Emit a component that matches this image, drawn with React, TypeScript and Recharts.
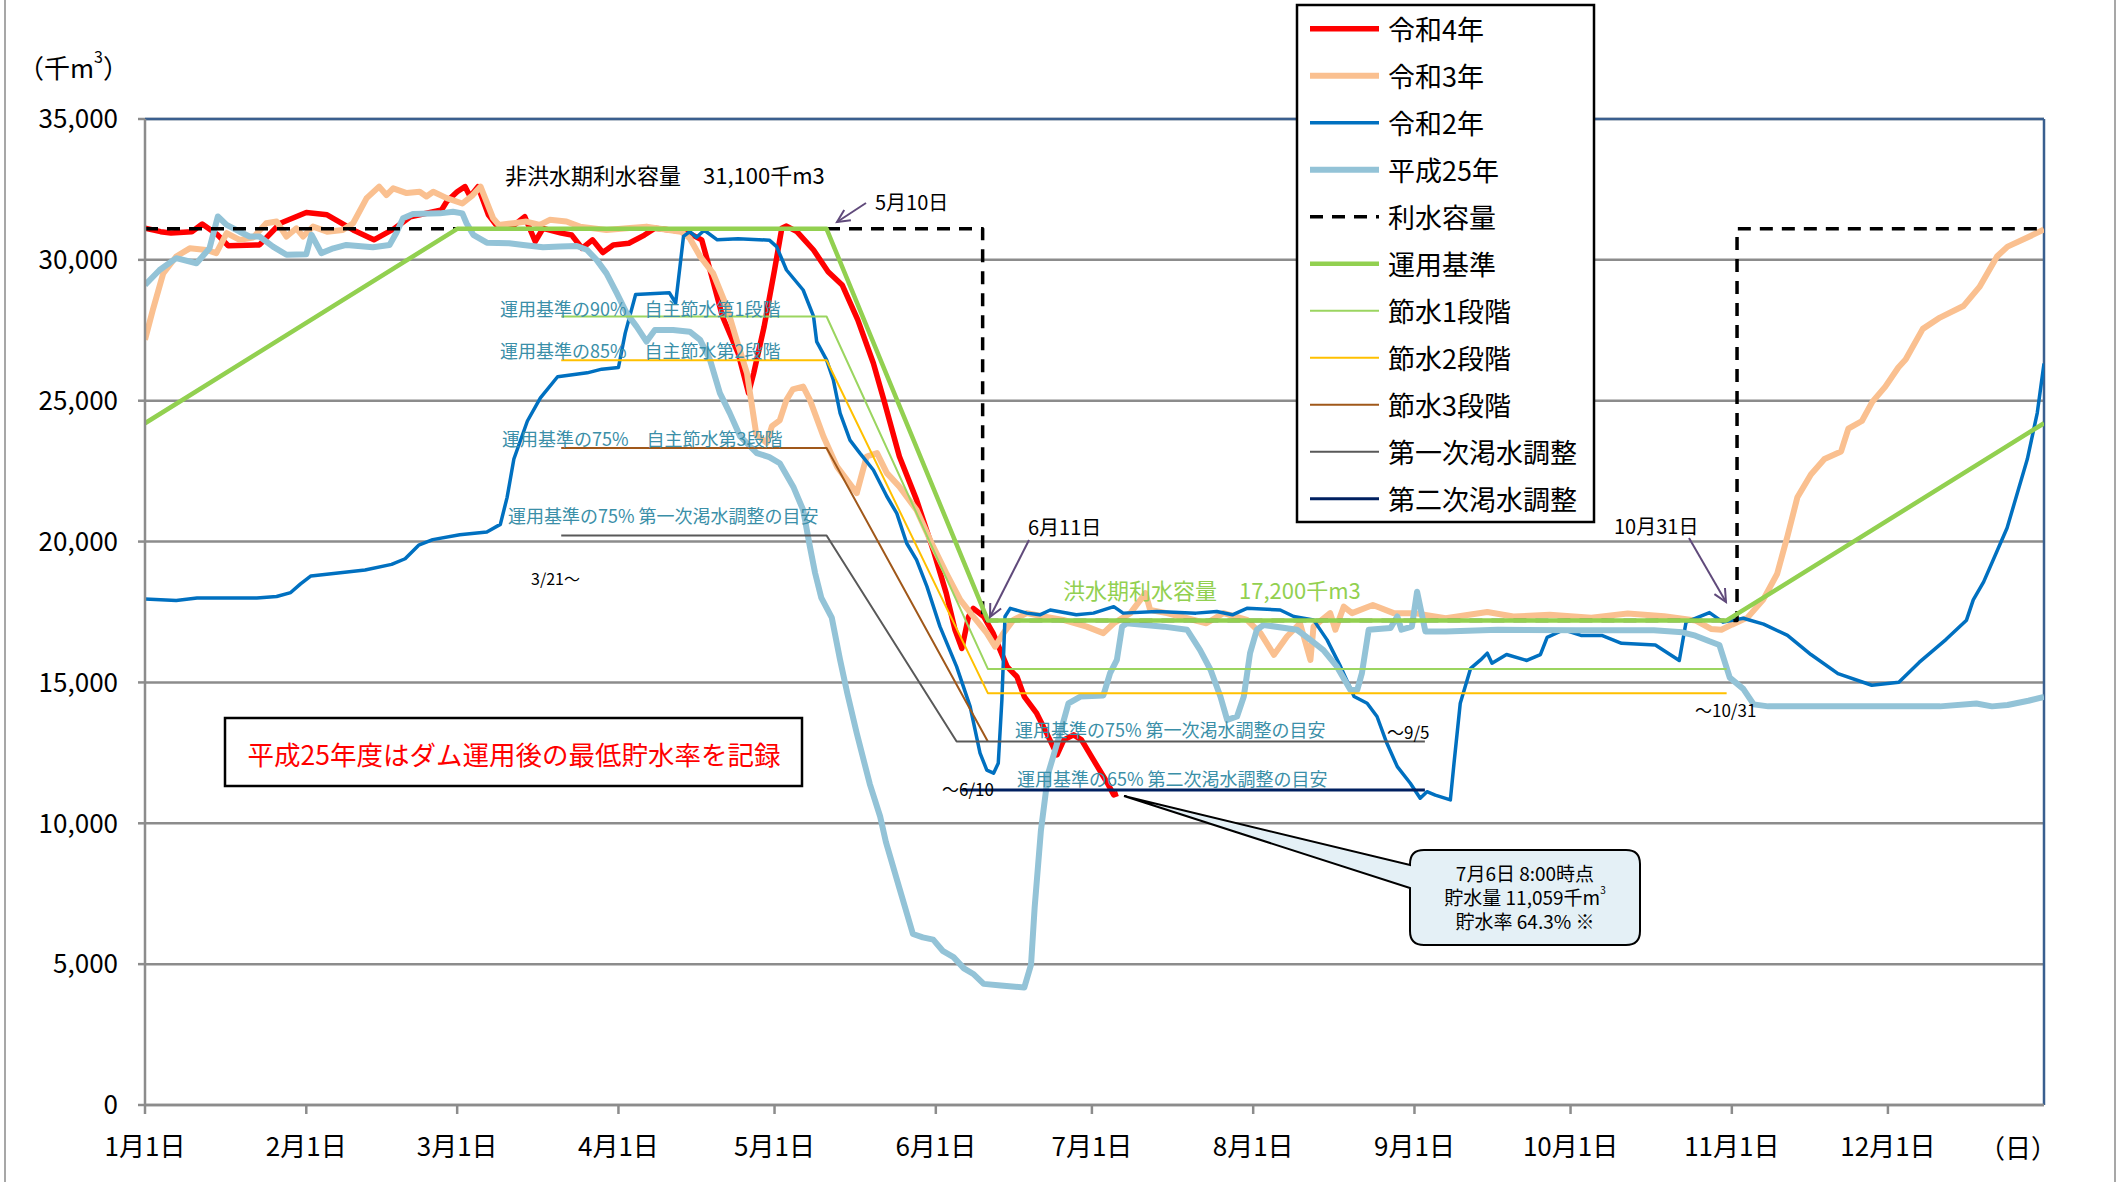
import { LineChart, Line, XAxis, YAxis, CartesianGrid, ReferenceLine } from 'recharts';

const FONT = '"Noto Sans CJK JP", "Noto Sans", sans-serif';

// x = day of a leap year (0 = 1月1日, 365 = 12月31日)
const X_TICKS = [0, 31, 60, 91, 121, 152, 182, 213, 244, 274, 305, 335];
const X_LABELS = ['1月1日', '2月1日', '3月1日', '4月1日', '5月1日', '6月1日', '7月1日', '8月1日', '9月1日', '10月1日', '11月1日', '12月1日'];
const Y_TICKS = [0, 5000, 10000, 15000, 20000, 25000, 30000, 35000];

const REIWA4: [number, number][] = [
  [0, 31120], [3, 31000], [5, 30950], [9, 31000], [11, 31270], [14, 30880], [16, 30500], [22, 30530],
  [26, 31300], [31, 31680], [35, 31600], [40, 31060], [44, 30710], [48, 31120], [51, 31530], [57, 31770],
  [58, 32070], [60, 32420], [61.5, 32600], [62.5, 32250], [64, 32600], [66, 31600], [68, 31120], [71, 31240],
  [73, 31530], [75, 30650], [76.5, 31120], [80, 30950], [82, 30880], [84, 30410], [86, 30710], [88, 30260],
  [90, 30530], [93, 30590], [96, 30880], [98, 31120], [104, 31000], [107, 30710], [108.6, 29640], [111, 27990],
  [114, 26690], [116, 25270], [117, 25980], [119, 27630], [121, 29640], [122.4, 31120], [123.3, 31200],
  [125.3, 31000], [128.5, 30350], [131.3, 29580], [134, 29110], [137, 27870], [140, 26330], [142, 25030],
  [145, 23020], [148.3, 21480], [151.5, 19700], [154, 18170], [155.7, 16860], [157, 16210], [158.3, 17340],
  [159.2, 17630], [161.2, 17340], [163, 16750], [165.7, 15560], [167.6, 15200], [169, 14500], [171.4, 13900],
  [173.3, 13200], [175.3, 12430], [176.6, 12960], [178.5, 13140], [180, 12960], [182.3, 12250], [185, 11420],
  [186.2, 11010], [187, 11059],
];

const REIWA3: [number, number][] = [
  [0, 27160], [1.5, 28220], [3.5, 29520], [6, 30120], [8.6, 30410], [11.8, 30350], [13.7, 30240], [15.7, 30950],
  [18.2, 30710], [20.8, 30790], [23.3, 31300], [25.3, 31360], [27.2, 30830], [29.1, 31120], [30.4, 30830],
  [32.3, 31180], [35, 31000], [38, 31060], [40, 31300], [42.6, 32190], [45, 32600], [46.4, 32300], [47.7, 32540],
  [50.3, 32370], [52.8, 32420], [54.1, 32250], [55.4, 32420], [58, 32190], [61, 32000], [63, 32300], [64.5, 32600],
  [66.9, 31480], [68, 31240], [70.8, 31300], [73.3, 31360], [75.9, 31240], [77.8, 31420], [81, 31360],
  [83.6, 31180], [88.7, 31060], [92.6, 31120], [96.4, 31180], [98.3, 31120], [103, 31000], [104.7, 30770],
  [106.7, 30120], [109.2, 29520], [111.8, 28340], [113.7, 27160], [115.7, 25980], [117.5, 23800], [119.5, 23500],
  [120.5, 24100], [122, 24300], [123.3, 25030], [124.5, 25400], [126.5, 25500], [127.8, 25030], [130.4, 23730],
  [133, 22660], [136.8, 21720], [138.7, 23020], [140.7, 23140], [142.6, 22430], [145, 21950], [148.3, 21120],
  [151.5, 19820], [154, 18880], [156.7, 17930], [159.2, 17340], [161.8, 16750], [163.4, 16270], [165, 16750],
  [166.9, 17220], [169.5, 17460], [172.7, 17340], [176.5, 17220], [181, 16980], [184.2, 16750], [186.2, 17100],
  [189.4, 17460], [192.3, 18170], [193.2, 17570], [196.4, 17460], [199, 17340], [204, 17100], [207.3, 17460],
  [211.8, 17220], [214.4, 16750], [217, 15980], [219.5, 16630], [222, 17100], [224, 15800], [224.6, 16980],
  [227.8, 17460], [228.8, 16870], [230.4, 17690], [232, 17460], [236, 17750], [240, 17460], [244, 17460],
  [250, 17280], [258, 17500], [263, 17340], [270, 17400], [278, 17300], [285, 17450], [292, 17350], [298, 17200],
  [301, 16900], [303, 16870], [305, 17050], [308, 17300], [311, 17930], [313.7, 18850], [315.7, 20200],
  [317.6, 21570], [320.2, 22380], [322.8, 22930], [326, 23200], [327.4, 24010], [330, 24280], [332, 24960],
  [334.5, 25500], [337, 26180], [338.4, 26460], [341.7, 27550], [345, 27950], [349.5, 28360], [352.6, 29040],
  [356, 30130], [358, 30470], [362, 30810], [365, 31080],
];

const REIWA2: [number, number][] = [
  [0, 17960], [6, 17910], [10, 18000], [21.5, 18000], [25.3, 18050], [28, 18190], [29.9, 18500], [31.9, 18780],
  [42.3, 18990], [47.4, 19190], [50, 19390], [52.6, 19870], [55.3, 20070], [60.5, 20240], [65.7, 20340],
  [68.3, 20610], [69.6, 21570], [70.9, 22930], [73.5, 24280], [76, 25100], [79.3, 25850], [85, 25990],
  [87.8, 26120], [91, 26180], [92.3, 27400], [94.3, 28770], [100.8, 28830], [102, 28470], [103.5, 30830],
  [104.7, 31000], [106, 30800], [107.5, 31050], [110, 30710], [114, 30750], [120, 30700], [121.4, 30470],
  [123.3, 29640], [126.5, 28930], [128.5, 27990], [129.1, 27100], [131, 26450], [132.3, 25740], [133.6, 24560],
  [135.5, 23600], [137.4, 23140], [140, 22540], [142.6, 21600], [144.5, 21000], [146.4, 19940], [148.3, 19350],
  [150.3, 18400], [152.8, 16980], [156, 15560], [158.6, 14140], [160.5, 12490], [161.8, 11890], [163.1, 11780],
  [164, 12130], [164.7, 14380], [165.3, 17340], [166.3, 17630], [169.5, 17460], [172, 17400], [174, 17570],
  [179, 17400], [182.3, 17460], [186.2, 17690], [188, 17460], [194.5, 17520], [202, 17460], [206, 17520],
  [209, 17400], [211.8, 17630], [218.2, 17570], [220.8, 17340], [224.6, 17220], [227.2, 16510], [229.8, 15560],
  [232.4, 14500], [234.9, 14260], [236.8, 13790], [238.7, 12840], [240.7, 12010], [243.2, 11420], [245.1, 10890],
  [246.4, 11120], [248, 11000], [250.9, 10830], [251.6, 12130], [252.8, 14260], [254.8, 15500], [256.7, 15800],
  [258, 16040], [258.9, 15680], [260.5, 15860], [261.7, 15990], [265.6, 15780], [268.2, 15990], [269.5, 16600],
  [272.7, 16870], [276, 16670], [280, 16670], [283.8, 16390], [290.3, 16330], [294.9, 15780], [296.2, 17140],
  [300.7, 17480], [303.3, 17140], [307.2, 17280], [311.1, 17070], [315.7, 16670], [320.2, 15990], [325.4, 15310],
  [331.9, 14900], [337.1, 15010], [341, 15710], [346.2, 16530], [350.1, 17210], [351.4, 17930], [353.4, 18570],
  [357.9, 20480], [361.8, 22930], [363.7, 24560], [365, 26320],
];

const HEISEI25: [number, number][] = [
  [0, 29110], [2.8, 29640], [6, 30060], [9.9, 29880], [12.4, 30410], [14, 31540], [15.7, 31240], [18.2, 31000],
  [20.1, 30830], [22, 30830], [24.6, 30470], [27.2, 30180], [31, 30200], [32, 30890], [33.9, 30240], [36.2, 30410],
  [38.7, 30530], [43.8, 30450], [47, 30530], [48.3, 30950], [49.6, 31480], [51.5, 31630], [56.7, 31650],
  [59.2, 31710], [61, 31650], [61.8, 31300], [63.1, 30890], [65.7, 30610], [70, 30590], [72.7, 30530],
  [76.5, 30450], [79.8, 30470], [83, 30490], [84.9, 30360], [86.8, 30000], [88.7, 29520], [90.7, 28810],
  [92.6, 28100], [94.5, 27630], [96.4, 27100], [98, 27510], [101.5, 27510], [104.7, 27450], [106.7, 27160],
  [108.6, 26450], [110.5, 25270], [112.4, 24560], [114.4, 23730], [117.6, 23140], [120, 23000], [122, 22780],
  [124.6, 21950], [126.5, 21120], [127.8, 19820], [128.8, 18880], [130, 18000], [132, 17300], [133.6, 15800],
  [135, 14600], [136.8, 13200], [139.3, 11400], [141.3, 10240], [142.4, 9340], [145, 7700], [147.6, 6070],
  [149.5, 5950], [151.5, 5870], [153.4, 5460], [155.4, 5250], [157.4, 4850], [159.3, 4640], [161.2, 4300],
  [164.5, 4240], [169, 4170], [170.3, 4980], [171, 7020], [172.2, 9740], [173.6, 11770], [175.9, 13200],
  [177.5, 14260], [179.8, 14500], [184.2, 14540], [185.5, 15330], [186.8, 15800], [187.8, 16980], [188.7, 17100],
  [195.8, 16980], [200.3, 16870], [202.8, 16150], [204.8, 15450], [206.7, 14500], [208, 13670], [209.9, 13790],
  [211.2, 14500], [212.4, 16040], [213.7, 16870], [215, 17040], [221.4, 16870], [224, 16510], [226.5, 16150],
  [229.1, 15560], [231.7, 14730], [233, 14730], [233.9, 15330], [235.2, 16870], [239.4, 16930], [240.7, 17340],
  [241.5, 16870], [243.5, 16980], [244.5, 18220], [246.1, 16810], [250, 16810], [260, 16870], [275, 16850],
  [290, 16850], [295.5, 16780], [298, 16660], [300.7, 16460], [302.6, 16330], [304.6, 15170], [307.2, 14770],
  [309.2, 14220], [312, 14150], [330, 14150], [345, 14150], [352, 14250], [355, 14150], [358, 14200],
  [362, 14350], [365, 14490],
];

const RISUI_CAPACITY: [number, number][] = [[0, 31100], [161, 31100], [161, 17200], [306, 17200], [306, 31100], [365, 31100]];
const UNYO_KIJUN: [number, number][] = [[0, 24200], [60, 31100], [131, 31100], [162, 17200], [304, 17200], [365, 24200]];
const SETSUSUI1: [number, number][] = [[80, 27990], [131, 27990], [162, 15480], [304, 15480]];
const SETSUSUI2: [number, number][] = [[80, 26435], [131, 26435], [162, 14620], [304, 14620]];
const SETSUSUI3: [number, number][] = [[80, 23325], [131, 23325], [162, 12900]];
const KASSUI1: [number, number][] = [[80, 20215], [131, 20215], [156, 12900], [246, 12900]];
const KASSUI2: [number, number][] = [[157, 11180], [246, 11180]];

const toPts = (arr: [number, number][]) => arr.map(([d, v]) => ({ d, v }));

const SERIES = [
  { key: 'r4', name: '令和4年', color: '#FF0000', width: 5.5, dash: undefined, data: REIWA4 },
  { key: 'r3', name: '令和3年', color: '#FAC090', width: 6, dash: undefined, data: REIWA3 },
  { key: 'r2', name: '令和2年', color: '#0070C0', width: 3.5, dash: undefined, data: REIWA2 },
  { key: 'h25', name: '平成25年', color: '#93C3D7', width: 6, dash: undefined, data: HEISEI25 },
  { key: 'cap', name: '利水容量', color: '#000000', width: 3.5, dash: '13 9', data: RISUI_CAPACITY },
  { key: 'kijun', name: '運用基準', color: '#92D050', width: 4.5, dash: undefined, data: UNYO_KIJUN },
  { key: 's1', name: '節水1段階', color: '#9BD560', width: 2, dash: undefined, data: SETSUSUI1 },
  { key: 's2', name: '節水2段階', color: '#FFC000', width: 2, dash: undefined, data: SETSUSUI2 },
  { key: 's3', name: '節水3段階', color: '#A0581A', width: 2, dash: undefined, data: SETSUSUI3 },
  { key: 'k1', name: '第一次渇水調整', color: '#595959', width: 2, dash: undefined, data: KASSUI1 },
  { key: 'k2', name: '第二次渇水調整', color: '#002060', width: 3, dash: undefined, data: KASSUI2 },
];

const TEAL = '#3B8FA8';
const ARROW = '#604A7B';

function Arrow({ x1, y1, x2, y2 }: { x1: number; y1: number; x2: number; y2: number }) {
  const a = Math.atan2(y2 - y1, x2 - x1);
  const s = 14;
  const h1 = [x2 - s * Math.cos(a - 0.45), y2 - s * Math.sin(a - 0.45)];
  const h2 = [x2 - s * Math.cos(a + 0.45), y2 - s * Math.sin(a + 0.45)];
  return (
    <g stroke={ARROW} strokeWidth={2} fill="none">
      <line x1={x1} y1={y1} x2={x2} y2={y2} />
      <polyline points={`${h1[0]},${h1[1]} ${x2},${y2} ${h2[0]},${h2[1]}`} />
    </g>
  );
}

function T({ x, y, size, color = '#000', anchor = 'start', children }: any) {
  return (
    <text x={x} y={y} fontSize={size} fill={color} textAnchor={anchor} dominantBaseline="central" fontFamily={FONT}>
      {children}
    </text>
  );
}

function Overlay() {
  return (
    <svg width={2120} height={1182} style={{ position: 'absolute', left: 0, top: 0, pointerEvents: 'none' }}>
      <rect x={5} y={-10} width={2110} height={1210} fill="none" stroke="#8a8a8a" strokeWidth={1.5} />
      <text x={18} y={66} fontSize={26} fontFamily={FONT} dominantBaseline="central">
        （千m<tspan fontSize={16} dy={-10}>3</tspan><tspan dy={10}>）</tspan>
      </text>
      <T x={2018} y={1146} size={26} anchor="middle">（日）</T>

      <T x={505} y={174} size={22}>非洪水期利水容量　31,100千m3</T>
      <T x={875} y={201} size={20}>5月10日</T>
      <Arrow x1={866} y1={203} x2={837} y2={222} />
      <T x={500} y={308} size={18} color={TEAL}>運用基準の90%　自主節水第1段階</T>
      <T x={500} y={350} size={18} color={TEAL}>運用基準の85%　自主節水第2段階</T>
      <T x={502} y={438} size={18} color={TEAL}>運用基準の75%　自主節水第3段階</T>
      <T x={508} y={515} size={18} color={TEAL}>運用基準の75% 第一次渇水調整の目安</T>
      <T x={531} y={578} size={16}>3/21〜</T>
      <T x={1028} y={526} size={20}>6月11日</T>
      <Arrow x1={1029} y1={540} x2={990} y2={617} />
      <T x={1063} y={589} size={22} color="#92D050">洪水期利水容量　17,200千m3</T>
      <T x={1614} y={525} size={20}>10月31日</T>
      <Arrow x1={1689} y1={538} x2={1726} y2={602} />
      <T x={1015} y={729} size={18} color={TEAL}>運用基準の75% 第一次渇水調整の目安</T>
      <T x={1387} y={731} size={17}>〜9/5</T>
      <T x={1017} y={778} size={18} color={TEAL}>運用基準の65% 第二次渇水調整の目安</T>
      <T x={942} y={788} size={17}>〜6/10</T>
      <T x={1695} y={709} size={17}>〜10/31</T>

      <rect x={225} y={718} width={577} height={68} fill="#fff" stroke="#000" strokeWidth={2.5} />
      <T x={514} y={753} size={26.5} color="#FF0000" anchor="middle">平成25年度はダム運用後の最低貯水率を記録</T>

      <path
        d="M 1424 850 H 1626 Q 1640 850 1640 864 V 931 Q 1640 945 1626 945 H 1424 Q 1410 945 1410 931 V 888 L 1124 796 L 1410 865 V 864 Q 1410 850 1424 850 Z"
        fill="#E4F0F6"
        stroke="#000"
        strokeWidth={2}
      />
      <T x={1525} y={872} size={19} anchor="middle">7月6日 8:00時点</T>
      <text x={1525} y={896} fontSize={19} textAnchor="middle" dominantBaseline="central" fontFamily={FONT}>
        貯水量 11,059千m<tspan fontSize={10} dy={-7}>3</tspan>
      </text>
      <T x={1525} y={920} size={19} anchor="middle">貯水率 64.3% ※</T>

      <rect x={1297} y={5} width={297} height={517} fill="#fff" stroke="#000" strokeWidth={2.5} />
      {SERIES.map((s, i) => {
        const cy = 28.7 + i * 47;
        return (
          <g key={s.key}>
            <line x1={1310} y1={cy} x2={1379} y2={cy} stroke={s.color} strokeWidth={s.width} strokeDasharray={s.dash} />
            <T x={1388} y={cy} size={27}>{s.name}</T>
          </g>
        );
      })}
    </svg>
  );
}

export default function App() {
  return (
    <div style={{ position: 'absolute', left: 0, top: 0, width: 2120, height: 1182, background: '#fff' }}>
      <LineChart width={2120} height={1182} margin={{ top: 119, right: 76, bottom: 0, left: 0 }}>
        <CartesianGrid horizontal vertical={false} stroke="#8c8c8c" strokeWidth={2.5} />
        <XAxis
          type="number"
          dataKey="d"
          domain={[0, 365]}
          ticks={X_TICKS}
          interval={0}
          allowDataOverflow
          height={77}
          tickFormatter={(v: number) => X_LABELS[X_TICKS.indexOf(v)] ?? ''}
          stroke="#8c8c8c"
          strokeWidth={2.5}
          tickSize={9}
          tickMargin={24}
          tick={{ fill: '#000', fontSize: 26, fontFamily: FONT }}
        />
        <YAxis
          type="number"
          domain={[0, 35000]}
          ticks={Y_TICKS}
          interval={0}
          width={145}
          allowDataOverflow
          tickFormatter={(v: number) => v.toLocaleString('en-US')}
          stroke="#8c8c8c"
          strokeWidth={2.5}
          tickSize={7}
          tickMargin={20}
          tick={{ fill: '#000', fontSize: 26, fontFamily: FONT }}
        />
        <ReferenceLine y={35000} stroke="#3A5F8F" strokeWidth={2.5} />
        <ReferenceLine x={365} stroke="#3A5F8F" strokeWidth={2.5} />
        {SERIES.map((s) => (
          <Line
            key={s.key}
            data={toPts(s.data)}
            dataKey="v"
            name={s.name}
            type="linear"
            stroke={s.color}
            strokeWidth={s.width}
            strokeDasharray={s.dash}
            strokeLinejoin="round"
            dot={false}
            activeDot={false}
            isAnimationActive={false}
          />
        ))}
      </LineChart>
      <Overlay />
    </div>
  );
}
